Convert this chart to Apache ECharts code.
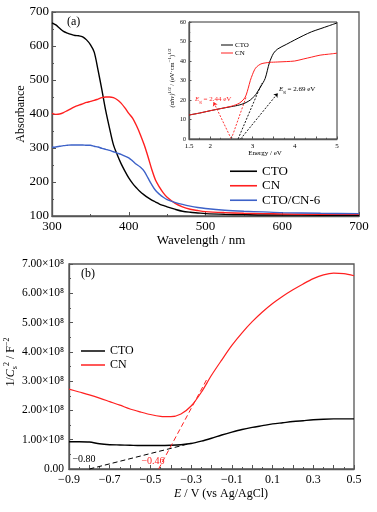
<!DOCTYPE html>
<html><head><meta charset="utf-8">
<script src="https://cdn.jsdelivr.net/npm/echarts@6/dist/echarts.min.js"></script>
<style>html,body{margin:0;padding:0;background:#fff}#c{width:377px;height:512px}</style>
</head><body><div id="c"></div><script>
// ---- (a) UV-vis absorbance ----
const wavelengths = [300,305,310,315,320,325,330,335,340,345,350,355,360,365,370,375,380,385,390,395,400,405,410,415,420,425,430,435,440,445,450,460,470,480,490,500,525,550,575,600,650,700];
const absCTO   = [668,662,652,643,638,634,631,630,627,618,604,582,529,471,410,358,310,280,254,232,212,196,183,171,162,154,147,141,135,131,127,120,114,111,109,107,105,104,103,103,102,102];
const absCN    = [402,399,400,404,410,416,422,426,430,434,437,440,444,448,450,450,448,442,432,418,402,388,366,340,310,275,237,205,185,168,155,138,127,120,116,113,110,108,107,106,105,105];
const absCTOCN6= [302,303,305,307,308,309,309,309,309,308,308,305,303,299,296,293,289,285,281,276,271,262,252,244,232,212,192,175,164,155,148,140,134,129,125,122,117,114,112,110,108,107];
// ---- inset: Tauc plot ----
const energies = [1.5,1.75,2.0,2.25,2.5,2.6,2.7,2.8,2.85,2.9,2.95,3.0,3.05,3.1,3.2,3.3,3.4,3.5,3.6,3.8,4.0,4.2,4.4,4.6,4.8,5.0];
const taucCTO  = [12.3,13.3,14.5,15.6,16.6,17.0,17.5,18.2,18.7,19.3,20.0,21.0,22.0,23.5,27,31,39,44,46.2,48.5,50.8,53,55,56.5,58,59.5];
const taucCN   = [12.3,13.3,14.5,15.6,16.8,17.5,18.5,20.5,22.5,26,30,33,35.5,37,38.5,39,39.3,39.4,39.5,39.7,40,41,42,43,43.5,44];
const tangentCN1  = [[2.5,0],[2.08,19]];
const tangentCN2  = [[2.5,0],[2.85,21.5]];
const tangentCTO1 = [[2.66,0],[3.22,28.5]];
const tangentCTO2 = [[2.72,0],[3.6,23.5]];
// ---- (b) Mott-Schottky (units of 1e8 F^-2) ----
const potentials = [-0.9,-0.85,-0.8,-0.75,-0.7,-0.65,-0.6,-0.55,-0.5,-0.45,-0.4,-0.35,-0.3,-0.25,-0.2,-0.15,-0.1,-0.05,0,0.05,0.1,0.15,0.2,0.25,0.3,0.35,0.4,0.45,0.5];
const mottCTO = [0.93,0.93,0.92,0.86,0.83,0.82,0.81,0.80,0.80,0.80,0.81,0.83,0.87,0.95,1.05,1.16,1.26,1.35,1.42,1.48,1.54,1.58,1.62,1.65,1.68,1.70,1.71,1.71,1.71];
const mottCN  = [2.73,2.63,2.53,2.42,2.30,2.18,2.05,1.95,1.86,1.80,1.79,1.88,2.15,2.62,3.20,3.72,4.22,4.65,5.03,5.36,5.65,5.90,6.12,6.32,6.50,6.63,6.69,6.67,6.60];
const mottTangentCTO = [[-0.80,0],[-0.30,0.88]];
const mottTangentCN  = [[-0.46,0],[-0.22,3.1]];

const FONT = 'Liberation Serif';
const pair = (xs, ys) => xs.map((x, i) => [x, ys[i]]);
const minus = s => String(s).replace('-', '\u2212');
const C_BLACK = '#000', C_RED = '#ff2020', C_BLUE = '#3d62c8', FRAME = '#555';

function axisCommon(fs, tickLen) {
  return {
    axisLine: { show: true, onZero: false, lineStyle: { color: FRAME, width: 1.3 } },
    axisTick: { show: true, inside: true, length: tickLen, lineStyle: { color: FRAME, width: 1 } },
    minorTick: { show: true, splitNumber: 2, length: tickLen / 2, lineStyle: { color: FRAME, width: 1 } },
    splitLine: { show: false },
    axisLabel: { fontFamily: FONT, fontSize: fs, color: '#000' }
  };
}

const chart = echarts.init(document.getElementById('c'), null, { renderer: 'canvas' });
const sup = { fontSize: 5, verticalAlign: 'top', lineHeight: 6, fontFamily: FONT, fill: '#000' };

chart.setOption({
  animation: false,
  backgroundColor: '#fff',
  grid: [
    { left: 52, top: 12, right: 18, bottom: 296, show: true, borderColor: FRAME, borderWidth: 1.3 },
    { left: 189, top: 22, right: 40, bottom: 373, show: true, borderColor: '#333', borderWidth: 1, backgroundColor: '#fff', z: 5 },
    { left: 69, top: 264, right: 23, bottom: 43, show: true, borderColor: FRAME, borderWidth: 1.3 }
  ],
  xAxis: [
    Object.assign(axisCommon(13, 4), { gridIndex: 0, type: 'value', min: 300, max: 700, interval: 100,
      axisLabel: { fontFamily: FONT, fontSize: 13, color: '#000', margin: 4 } }),
    Object.assign(axisCommon(7, 2.5), { gridIndex: 1, type: 'value', min: 1.5, max: 5, interval: 0.5, z: 6,
      axisLabel: { fontFamily: FONT, fontSize: 7, color: '#000', margin: 4,
        formatter: v => (v === 1.5 ? '1.5' : (Number.isInteger(v) ? String(v) : '')) } }),
    Object.assign(axisCommon(12, 4), { gridIndex: 2, type: 'value', min: -0.9, max: 0.5, interval: 0.1,
      axisLabel: { fontFamily: FONT, fontSize: 12, color: '#000', margin: 5,
        formatter: v => { const k = Math.round(v * 10); return (Math.abs(k) % 2 === 1) ? minus(v.toFixed(1)) : ''; } } })
  ],
  yAxis: [
    Object.assign(axisCommon(13, 4), { gridIndex: 0, type: 'value', min: 100, max: 700, interval: 100,
      axisLabel: { fontFamily: FONT, fontSize: 13, color: '#000', margin: 3 } }),
    Object.assign(axisCommon(6, 2.5), { gridIndex: 1, type: 'value', min: 0, max: 60, interval: 10, z: 6,
      axisLabel: { fontFamily: FONT, fontSize: 6, color: '#000', margin: 3 } }),
    Object.assign(axisCommon(12, 4), { gridIndex: 2, type: 'value', min: 0, max: 7, interval: 1,
      axisLabel: { fontFamily: FONT, fontSize: 11.5, color: '#000', margin: 5,
        formatter: v => v === 0 ? '0.00' : v.toFixed(2) + '\u00d710\u2078' } })
  ],
  legend: [
    { left: 230, top: 164, orient: 'vertical', icon: 'rect', itemWidth: 27, itemHeight: 1.6, itemGap: 0, padding: 0,
      textStyle: { fontFamily: FONT, fontSize: 13, color: '#000', lineHeight: 14.5 }, data: ['CTO', 'CN', 'CTO/CN-6'], selectedMode: false },
    { left: 221, top: 41, orient: 'vertical', icon: 'rect', itemWidth: 12, itemHeight: 1, itemGap: 0, padding: 0, z: 7,
      textStyle: { fontFamily: FONT, fontSize: 7, color: '#000', lineHeight: 8, padding: [0,0,0,-3] }, data: ['CTO', 'CN'], selectedMode: false },
    { left: 81, top: 344, orient: 'vertical', icon: 'rect', itemWidth: 24, itemHeight: 1.5, itemGap: 0, padding: 0,
      textStyle: { fontFamily: FONT, fontSize: 12, color: '#000', lineHeight: 14 }, data: ['CTO', 'CN'], selectedMode: false }
  ],
  series: [
    { name: 'CTO', type: 'line', xAxisIndex: 0, yAxisIndex: 0, data: pair(wavelengths, absCTO), symbol: 'none', smooth: 0.3, lineStyle: { color: C_BLACK, width: 1.4 }, itemStyle: { color: C_BLACK } },
    { name: 'CN', type: 'line', xAxisIndex: 0, yAxisIndex: 0, data: pair(wavelengths, absCN), symbol: 'none', smooth: 0.3, lineStyle: { color: C_RED, width: 1.4 }, itemStyle: { color: C_RED } },
    { name: 'CTO/CN-6', type: 'line', xAxisIndex: 0, yAxisIndex: 0, data: pair(wavelengths, absCTOCN6), symbol: 'none', smooth: 0.3, lineStyle: { color: C_BLUE, width: 1.4 }, itemStyle: { color: C_BLUE } },
    { name: 'CTO', type: 'line', xAxisIndex: 1, yAxisIndex: 1, z: 6, data: pair(energies, taucCTO), symbol: 'none', smooth: 0.3, lineStyle: { color: C_BLACK, width: 1 }, itemStyle: { color: C_BLACK },
      markLine: { silent: true, symbol: ['none', 'none'], label: { show: false }, lineStyle: { color: '#000', type: [2, 1.5], width: 0.9 },
        data: [
          [{ coord: tangentCTO1[0] }, { coord: tangentCTO1[1] }],
          [{ coord: tangentCTO2[0] }, { coord: tangentCTO2[1], symbol: 'arrow', symbolSize: 4 }]
        ] } },
    { name: 'CN', type: 'line', xAxisIndex: 1, yAxisIndex: 1, z: 6, data: pair(energies, taucCN), symbol: 'none', smooth: 0.3, lineStyle: { color: C_RED, width: 1 }, itemStyle: { color: C_RED },
      markLine: { silent: true, symbol: ['none', 'none'], label: { show: false }, lineStyle: { color: C_RED, type: [2, 1.5], width: 0.9 },
        data: [
          [{ coord: tangentCN1[0] }, { coord: tangentCN1[1], symbol: 'arrow', symbolSize: 4 }],
          [{ coord: tangentCN2[0] }, { coord: tangentCN2[1] }]
        ] } },
    { name: 'CTO', type: 'line', xAxisIndex: 2, yAxisIndex: 2, data: pair(potentials, mottCTO), symbol: 'none', smooth: 0.3, lineStyle: { color: C_BLACK, width: 1.4 }, itemStyle: { color: C_BLACK },
      markLine: { silent: true, symbol: ['none', 'none'], label: { show: false }, lineStyle: { color: '#000', type: [5, 3], width: 1 },
        data: [[{ coord: mottTangentCTO[0] }, { coord: mottTangentCTO[1] }]] } },
    { name: 'CN', type: 'line', xAxisIndex: 2, yAxisIndex: 2, data: pair(potentials, mottCN), symbol: 'none', smooth: 0.3, lineStyle: { color: C_RED, width: 1.2 }, itemStyle: { color: C_RED },
      markLine: { silent: true, symbol: ['none', 'none'], label: { show: false }, lineStyle: { color: C_RED, type: [5, 3], width: 1 },
        data: [[{ coord: mottTangentCN[0] }, { coord: mottTangentCN[1] }]] } }
  ],
  graphic: [
    { type: 'text', left: 67, top: 16, style: { text: '(a)', fontFamily: FONT, fontSize: 12, fill: '#000' } },
    { type: 'text', left: 81, top: 268, style: { text: '(b)', fontFamily: FONT, fontSize: 12, fill: '#000' } },
    { type: 'text', x: 21, y: 114, rotation: Math.PI / 2, style: { text: 'Absorbance', fontFamily: FONT, fontSize: 12, fill: '#000', align: 'center', verticalAlign: 'middle' } },
    { type: 'text', x: 201, y: 241, style: { text: 'Wavelength / nm', fontFamily: FONT, fontSize: 13, fill: '#000', align: 'center', verticalAlign: 'middle' } },
    { type: 'text', x: 265, y: 153, z: 10, style: { text: 'Energy / eV', fontFamily: FONT, fontSize: 7, fill: '#000', align: 'center', verticalAlign: 'middle' } },
    { type: 'text', x: 172, y: 78, z: 10, rotation: Math.PI / 2, style: {
        text: '{i|(αhν)}{s|1/2}{n| / (eV·cm}{s|−1}{n|)}{s|1/2}', align: 'center', verticalAlign: 'middle',
        rich: { i: { fontFamily: FONT, fontSize: 6.5, fontStyle: 'italic', fill: '#000', lineHeight: 9 }, n: { fontFamily: FONT, fontSize: 6.5, fill: '#000', lineHeight: 9 }, s: sup } } },
    { type: 'text', x: 195, y: 99, z: 10, style: {
        text: '{i|E}{b|g}{n| = 2.44 eV}', verticalAlign: 'middle',
        rich: { i: { fontFamily: FONT, fontSize: 7, fontStyle: 'italic', fill: C_RED, lineHeight: 10 }, b: { fontFamily: FONT, fontSize: 5, fill: C_RED, verticalAlign: 'bottom', lineHeight: 6 }, n: { fontFamily: FONT, fontSize: 7, fill: C_RED, lineHeight: 10 } } } },
    { type: 'text', x: 279, y: 89, z: 10, style: {
        text: '{i|E}{b|g}{n| = 2.69 eV}', verticalAlign: 'middle',
        rich: { i: { fontFamily: FONT, fontSize: 7, fontStyle: 'italic', fill: '#000', lineHeight: 10 }, b: { fontFamily: FONT, fontSize: 5, fill: '#000', verticalAlign: 'bottom', lineHeight: 6 }, n: { fontFamily: FONT, fontSize: 7, fill: '#000', lineHeight: 10 } } } },
    { type: 'text', x: 84, y: 459, style: { text: '\u22120.80', fontFamily: FONT, fontSize: 10, fill: '#000', align: 'center', verticalAlign: 'middle' } },
    { type: 'text', x: 153, y: 461, style: { text: '\u22120.46', fontFamily: FONT, fontSize: 10, fill: C_RED, align: 'center', verticalAlign: 'middle' } },
    { type: 'text', x: 221, y: 494, style: {
        text: '{i|E}{n| / V (vs Ag/AgCl)}', align: 'center', verticalAlign: 'middle',
        rich: { i: { fontFamily: FONT, fontSize: 12, fontStyle: 'italic', fill: '#000' }, n: { fontFamily: FONT, fontSize: 12, fill: '#000' } } } },
    { type: 'text', x: 11, y: 362, rotation: Math.PI / 2, style: {
        text: '{n|1/}{i|C}{b|s}{s|2}{n| / F}{s|−2}', align: 'center', verticalAlign: 'middle',
        rich: { n: { fontFamily: FONT, fontSize: 12, fill: '#000', lineHeight: 16 }, i: { fontFamily: FONT, fontSize: 12, fontStyle: 'italic', fill: '#000', lineHeight: 16 },
                b: { fontFamily: FONT, fontSize: 8, fill: '#000', verticalAlign: 'bottom', lineHeight: 9 }, s: { fontFamily: FONT, fontSize: 8, fill: '#000', verticalAlign: 'top', lineHeight: 9 } } } }
  ]
});
</script></body></html>
